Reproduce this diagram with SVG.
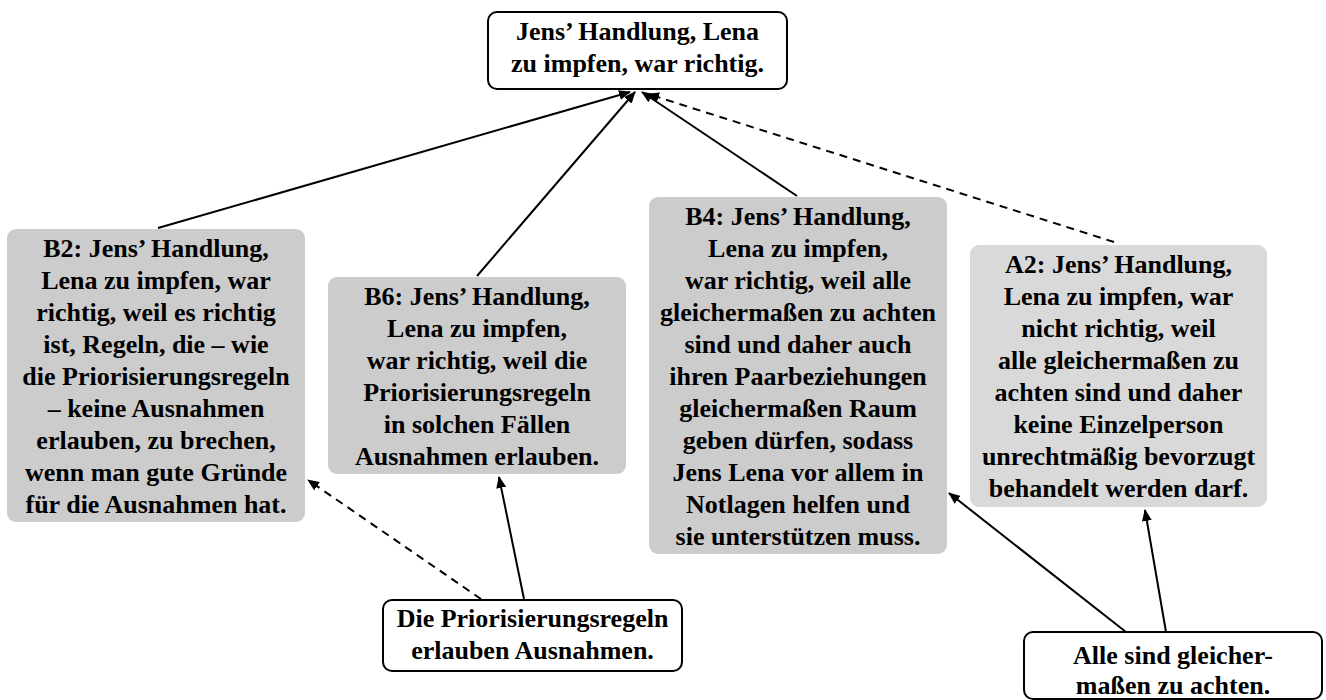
<svg xmlns="http://www.w3.org/2000/svg" width="1326" height="700" viewBox="0 0 1326 700">
<defs>
<style>
.t{font-family:"Liberation Serif","DejaVu Serif",serif;font-weight:bold;font-size:26px;fill:#000;text-anchor:middle}
.claim{fill:#fff;stroke:#000;stroke-width:2}
.arg{fill:#cccccc}
.argA{fill:#d9d9d9}
.e{stroke:#000;stroke-width:2;fill:none;marker-end:url(#ah)}
.d{stroke-dasharray:8 6}
</style>
<marker id="ah" viewBox="0 0 12 10" markerWidth="12" markerHeight="10" refX="11" refY="5" orient="auto" markerUnits="userSpaceOnUse">
<path d="M0,0 L12,5 L0,10 z" fill="#000"/>
</marker>
</defs>
<rect width="1326" height="700" fill="#fff"/>
<g id="connectors">
<line class="e" x1="158" y1="228" x2="630" y2="92"/>
<line class="e" x1="477" y1="276" x2="635" y2="92"/>
<line class="e" x1="797" y1="196" x2="642" y2="92"/>
<line class="e d" x1="1114" y1="242" x2="648" y2="94"/>
<line class="e d" x1="481" y1="599" x2="308" y2="480"/>
<line class="e" x1="524" y1="599" x2="499" y2="477"/>
<line class="e" x1="1126" y1="632" x2="949" y2="493"/>
<line class="e" x1="1166" y1="632" x2="1145" y2="510"/>
</g>
<g id="claim-main">
<rect class="claim" x="488" y="12" width="299" height="77" rx="9"/>
<text class="t" x="637.5" y="40">Jens’ Handlung, Lena</text>
<text class="t" x="637.5" y="72">zu impfen, war richtig.</text>
</g>
<g id="B2">
<rect class="arg" x="7" y="229" width="298" height="293" rx="9"/>
<text class="t" x="156" y="257">B2: Jens’ Handlung,</text>
<text class="t" x="156" y="289">Lena zu impfen, war</text>
<text class="t" x="156" y="321">richtig, weil es richtig</text>
<text class="t" x="156" y="353">ist, Regeln, die – wie</text>
<text class="t" x="156" y="385">die Priorisierungsregeln</text>
<text class="t" x="156" y="417">– keine Ausnahmen</text>
<text class="t" x="156" y="449">erlauben, zu brechen,</text>
<text class="t" x="156" y="481">wenn man gute Gründe</text>
<text class="t" x="156" y="513">für die Ausnahmen hat.</text>
</g>
<g id="B6">
<rect class="arg" x="328" y="277" width="298" height="197" rx="9"/>
<text class="t" x="477" y="305">B6: Jens’ Handlung,</text>
<text class="t" x="477" y="337">Lena zu impfen,</text>
<text class="t" x="477" y="369">war richtig, weil die</text>
<text class="t" x="477" y="401">Priorisierungsregeln</text>
<text class="t" x="477" y="433">in solchen Fällen</text>
<text class="t" x="477" y="465">Ausnahmen erlauben.</text>
</g>
<g id="B4">
<rect class="arg" x="649" y="197" width="298" height="357" rx="9"/>
<text class="t" x="798" y="225">B4: Jens’ Handlung,</text>
<text class="t" x="798" y="257">Lena zu impfen,</text>
<text class="t" x="798" y="289">war richtig, weil alle</text>
<text class="t" x="798" y="321">gleichermaßen zu achten</text>
<text class="t" x="798" y="353">sind und daher auch</text>
<text class="t" x="798" y="385">ihren Paarbeziehungen</text>
<text class="t" x="798" y="417">gleichermaßen Raum</text>
<text class="t" x="798" y="449">geben dürfen, sodass</text>
<text class="t" x="798" y="481">Jens Lena vor allem in</text>
<text class="t" x="798" y="513">Notlagen helfen und</text>
<text class="t" x="798" y="545">sie unterstützen muss.</text>
</g>
<g id="A2">
<rect class="argA" x="970" y="245" width="297" height="262" rx="9"/>
<text class="t" x="1118.5" y="273">A2: Jens’ Handlung,</text>
<text class="t" x="1118.5" y="305">Lena zu impfen, war</text>
<text class="t" x="1118.5" y="337">nicht richtig, weil</text>
<text class="t" x="1118.5" y="369">alle gleichermaßen zu</text>
<text class="t" x="1118.5" y="401">achten sind und daher</text>
<text class="t" x="1118.5" y="433">keine Einzelperson</text>
<text class="t" x="1118.5" y="465">unrechtmäßig bevorzugt</text>
<text class="t" x="1118.5" y="497">behandelt werden darf.</text>
</g>
<g id="premise-prio">
<rect class="claim" x="383" y="600" width="299" height="71" rx="9"/>
<text class="t" x="532.5" y="627">Die Priorisierungsregeln</text>
<text class="t" x="532.5" y="659">erlauben Ausnahmen.</text>
</g>
<g id="premise-alle">
<rect class="claim" x="1024" y="632" width="298" height="67" rx="9"/>
<text class="t" x="1173" y="664">Alle sind gleicher-</text>
<text class="t" x="1173" y="694">maßen zu achten.</text>
</g>
</svg>
